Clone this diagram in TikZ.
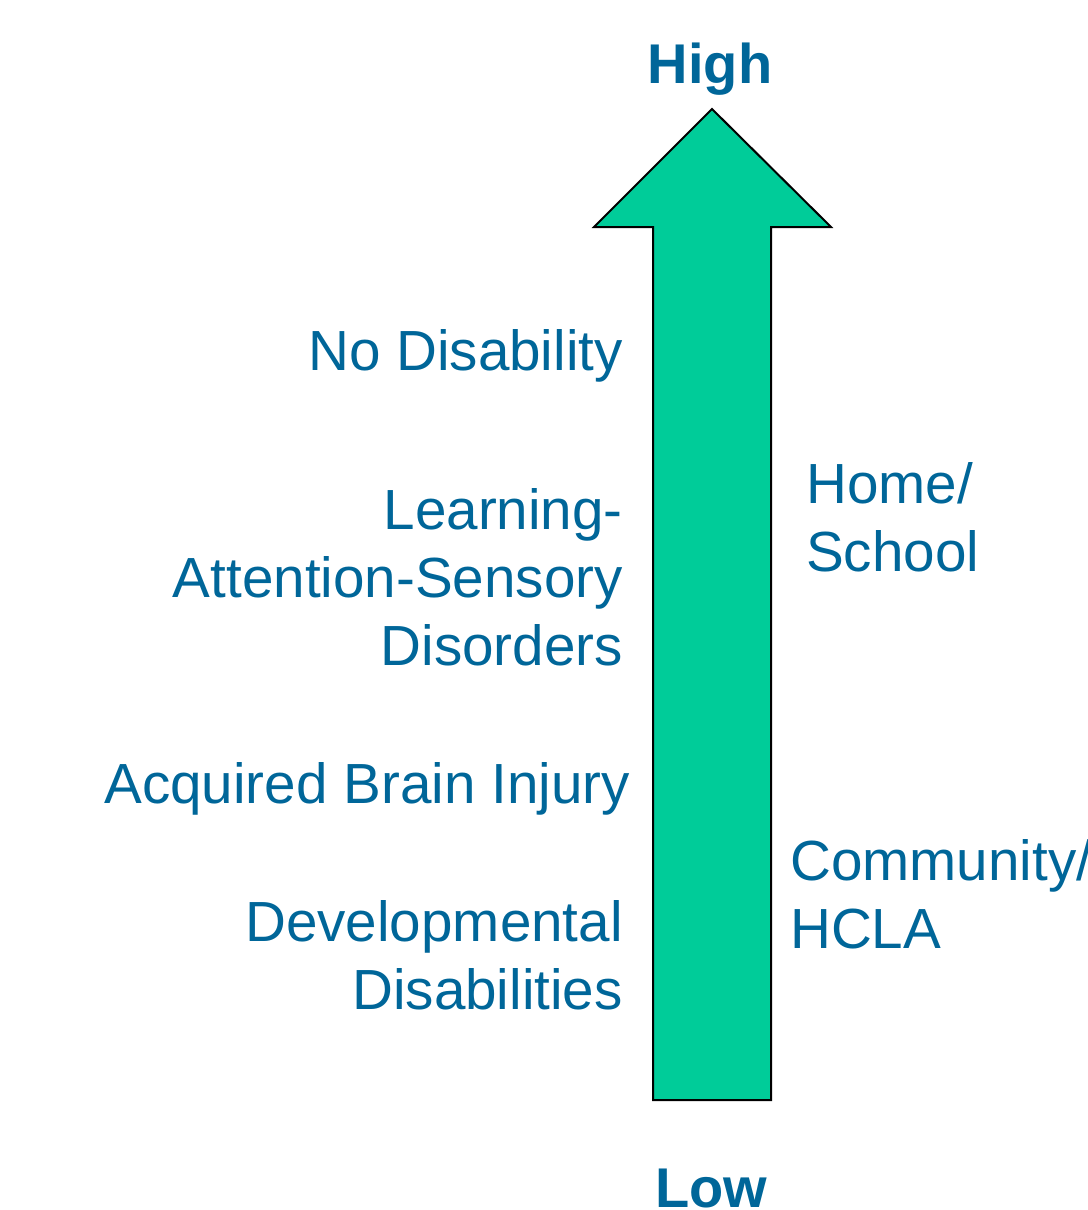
\documentclass[tikz,border=0pt]{standalone}
\usepackage{fontspec}
\setmainfont{Liberation Sans}
\definecolor{txtblue}{HTML}{006699}
\definecolor{arrowgreen}{HTML}{00CC99}
\begin{document}
\begin{tikzpicture}[x=1pt,y=-1pt,
  lbl/.style={inner sep=0pt,text=txtblue,font=\fontsize{56.6}{68}\selectfont},
  lblr/.style={lbl,align=right},
  lbll/.style={lbl,align=left},
  endlbl/.style={inner sep=0pt,text=txtblue,font=\fontsize{56}{68}\selectfont\bfseries}]
\useasboundingbox (0,0) rectangle (1087,1210);
% big arrow
\draw[fill=arrowgreen,line width=2pt,line join=miter]
  (712,109) -- (831,227) -- (771,227) -- (771,1100) -- (653,1100)
  -- (653,227) -- (594,227) -- cycle;
% end labels
\node[endlbl,anchor=base] (high) at (710,83) {High};
\node[endlbl,anchor=base] (low) at (711,1207) {Low};
% left labels
\node[lbl,anchor=base east] (nodis) at (623,370) {No Disability};
\node[lblr,anchor=north east] (lasd) at (623,488) {Learning-\\Attention-Sensory\\Disorders};
\node[lbl,anchor=base east] (abi) at (630,803) {Acquired Brain Injury};
\node[lblr,anchor=north east] (dd) at (623,900) {Developmental\\Disabilities};
% right labels
\node[lbll,anchor=north west] (home) at (806,462) {Home/\\School};
\node[lbll,anchor=north west] (comm) at (790,839) {Community/\\HCLA};
\end{tikzpicture}
\end{document}
